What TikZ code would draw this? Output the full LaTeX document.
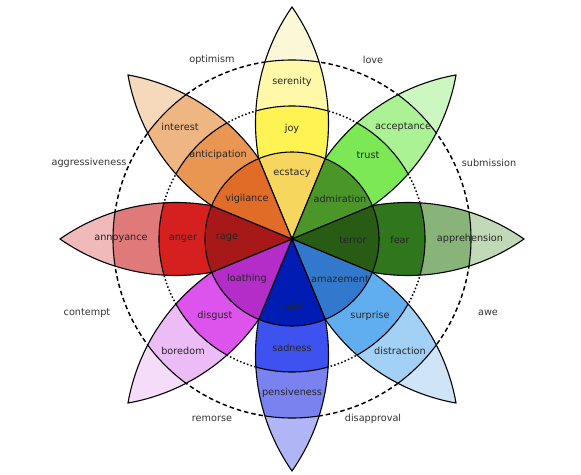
\documentclass[tikz,border=0pt]{standalone}
\usepackage{fontspec}
\setmainfont{DejaVu Sans}
% yellow (joy)
\definecolor{yA}{RGB}{246,214,92}
\definecolor{yB}{RGB}{255,243,84}
\definecolor{yC}{RGB}{255,248,168}
\definecolor{yD}{RGB}{250,248,214}
% light green (trust)
\definecolor{lgA}{RGB}{74,150,40}
\definecolor{lgB}{RGB}{124,232,86}
\definecolor{lgC}{RGB}{170,242,148}
\definecolor{lgD}{RGB}{205,247,192}
% dark green (fear)
\definecolor{dgA}{RGB}{40,92,20}
\definecolor{dgB}{RGB}{48,118,28}
\definecolor{dgC}{RGB}{136,180,122}
\definecolor{dgD}{RGB}{193,217,183}
% light blue (surprise)
\definecolor{lbA}{RGB}{50,120,205}
\definecolor{lbB}{RGB}{96,174,240}
\definecolor{lbC}{RGB}{163,208,245}
\definecolor{lbD}{RGB}{207,228,246}
% blue (sadness)
\definecolor{bA}{RGB}{0,28,178}
\definecolor{bB}{RGB}{62,82,240}
\definecolor{bC}{RGB}{122,130,240}
\definecolor{bD}{RGB}{176,182,245}
% purple (disgust)
\definecolor{pA}{RGB}{180,45,200}
\definecolor{pB}{RGB}{220,84,236}
\definecolor{pC}{RGB}{236,188,246}
\definecolor{pD}{RGB}{245,221,250}
% red (anger)
\definecolor{rA}{RGB}{167,25,25}
\definecolor{rB}{RGB}{214,32,32}
\definecolor{rC}{RGB}{224,121,121}
\definecolor{rD}{RGB}{240,186,186}
% orange (anticipation)
\definecolor{oA}{RGB}{224,108,40}
\definecolor{oB}{RGB}{232,150,82}
\definecolor{oC}{RGB}{238,182,130}
\definecolor{oD}{RGB}{246,217,186}

\def\petalpath{(0,0) arc[start angle=124.93, end angle=55.07, radius=202.58] arc[start angle=-55.07, end angle=-124.93, radius=202.58] -- cycle}
\newcommand\mypetal[4]{%
 \begin{scope}[rotate=#1]
  \fill[#4] \petalpath;
  \begin{scope}
   \clip \petalpath;
   \fill[#3] (0,0) circle[radius=179];
   \fill[#2] (0,0) circle[radius=133];
   \draw[edgeline] (0,0) circle[radius=179] (0,0) circle[radius=133];
  \end{scope}
  \draw[edgeline] \petalpath;
 \end{scope}}
\newcommand\mysector[2]{%
 \begin{scope}[rotate=#1]
  \filldraw[edgeline, fill=#2] (0,0) -- (-22.5:87) arc[start angle=-22.5, end angle=22.5, radius=87] -- cycle;
 \end{scope}}

\begin{document}
\begin{tikzpicture}[x=1pt,y=1pt,
  edgeline/.style={line width=1.1pt, draw=black, line join=miter},
  lbl/.style={font=\fontsize{9.7}{11}\selectfont, text=black!85, inner sep=0pt},
  outl/.style={font=\fontsize{9.7}{11}\selectfont, text=black!80, inner sep=0pt}]
\useasboundingbox (-292,-235) rectangle (289,239);
\draw[line width=1.5pt, dash pattern=on 4.5pt off 3pt] (0,0) circle[radius=179];
\draw[line width=1.5pt, dash pattern=on 1.5pt off 2.2pt] (0,0) circle[radius=133];

\mypetal{90}{yB}{yC}{yD}
\mypetal{45}{lgB}{lgC}{lgD}
\mypetal{0}{dgB}{dgC}{dgD}
\mypetal{-45}{lbB}{lbC}{lbD}
\mypetal{-90}{bB}{bC}{bD}
\mypetal{-135}{pB}{pC}{pD}
\mypetal{180}{rB}{rC}{rD}
\mypetal{135}{oB}{oC}{oD}

\mysector{90}{yA}
\mysector{45}{lgA}
\mysector{0}{dgA}
\mysector{-45}{lbA}
\mysector{-90}{bA}
\mysector{-135}{pA}
\mysector{180}{rA}
\mysector{135}{oA}

% petal labels
\node[lbl] (ecstacy) at (0,66) {ecstacy};
\node[lbl] (joy) at (0,110) {joy};
\node[lbl] (serenity) at (0,157) {serenity};
\node[lbl] (admiration) at (48,40) {admiration};
\node[lbl] (trust) at (76,84) {trust};
\node[lbl] (acceptance) at (111,112) {acceptance};
\node[lbl] (terror) at (61,-1) {terror};
\node[lbl] (fear) at (108,-1) {fear};
\node[lbl] (apprehension) at (178,0) {apprehension};
\node[lbl] (amazement) at (48,-40) {amazement};
\node[lbl] (surprise) at (78,-77) {surprise};
\node[lbl] (distraction) at (108,-112) {distraction};
\node[lbl] (grief) at (0,-69) {grief};
\node[lbl] (sadness) at (0,-109) {sadness};
\node[lbl] (pensiveness) at (0,-154) {pensiveness};
\node[lbl] (loathing) at (-45,-40) {loathing};
\node[lbl] (disgust) at (-77,-77) {disgust};
\node[lbl] (boredom) at (-109,-112) {boredom};
\node[lbl] (rage) at (-65,1) {rage};
\node[lbl] (anger) at (-109,0) {anger};
\node[lbl] (annoyance) at (-171,0) {annoyance};
\node[lbl] (vigilance) at (-45,40) {vigilance};
\node[lbl] (anticipation) at (-74,84) {anticipation};
\node[lbl] (interest) at (-112,112) {interest};

% outer labels
\node[outl] (optimism) at (-80,179) {optimism};
\node[outl] (love) at (81,179) {love};
\node[outl] (aggressiveness) at (-203,76) {aggressiveness};
\node[outl] (submission) at (197,76) {submission};
\node[outl] (contempt) at (-205,-74) {contempt};
\node[outl] (awe) at (196,-74) {awe};
\node[outl] (remorse) at (-80,-180) {remorse};
\node[outl] (disapproval) at (81,-180) {disapproval};
\end{tikzpicture}
\end{document}
